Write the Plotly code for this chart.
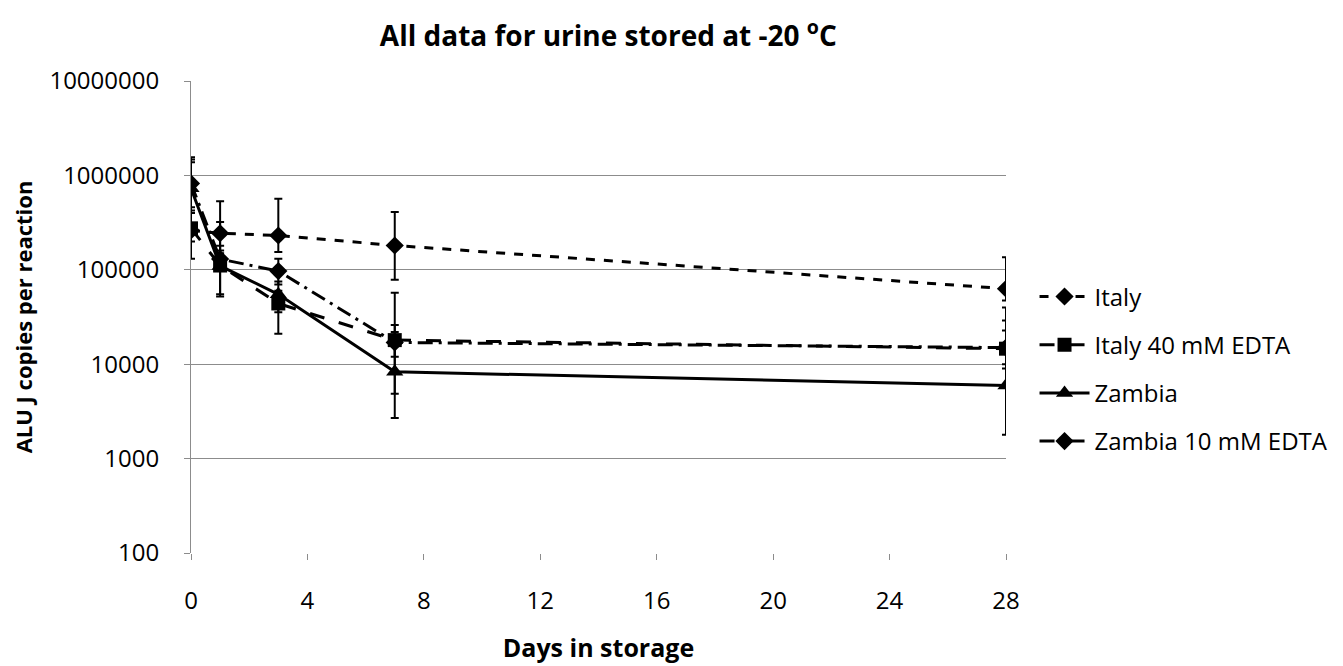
import plotly.graph_objects as go

days = [0, 1, 3, 7, 28]

series_names = ["Italy", "Italy 40 mM EDTA", "Zambia", "Zambia 10 mM EDTA"]

italy = [261000, 244000, 231000, 181000, 63000]
italy_edta = [275000, 111000, 44000, 18000, 14600]
zambia = [730000, 110000, 55000, 8300, 5960]
zambia_edta = [822000, 130000, 97000, 17000, 15000]

# error bar ends (upper / lower values)
italy_hi = [400000, 531000, 566000, 410000, 136000]
italy_lo = [200000, 150000, 154000, 78500, 47400]
italy_edta_hi = [1380000, 320000, 60000, 57000, 39800]
italy_edta_lo = [131000, 55000, 21000, 4860, 9000]
zambia_hi = [1470000, 180000, 75000, 26000, 29100]
zambia_lo = [426000, 52000, 35600, 2700, 1790]
zambia_edta_hi = [1560000, 160000, 131000, 22000, 22800]
zambia_edta_lo = [461000, 100000, 70000, 12000, 10000]

y_ticks = [100, 1000, 10000, 100000, 1000000, 10000000]
y_tick_text = ["100", "1000", "10000", "100000", "1000000", "10000000"]
x_ticks = [0, 4, 8, 12, 16, 20, 24, 28]

FONT = "Open Sans"
GRID = "#8c8c8c"

styles = [
    dict(dash="dash", symbol="diamond", size=14),
    dict(dash="longdash", symbol="square", size=14),
    dict(dash="solid", symbol="triangle-up", size=15),
    dict(dash="longdashdot", symbol="diamond", size=14),
]
values = [italy, italy_edta, zambia, zambia_edta]
highs = [italy_hi, italy_edta_hi, zambia_hi, zambia_edta_hi]
lows = [italy_lo, italy_edta_lo, zambia_lo, zambia_edta_lo]

fig = go.Figure()
for name, vals, hi, lo, st in zip(series_names, values, highs, lows, styles):
    plus = [h - v for h, v in zip(hi, vals)]
    minus = [v - l for l, v in zip(lo, vals)]
    fig.add_trace(go.Scatter(
        x=days, y=vals, name=name, legendgroup=name,
        mode="lines+markers",
        line=dict(color="black", width=3, dash=st["dash"]),
        marker=dict(symbol=st["symbol"], size=st["size"], color="black"),
        error_y=dict(type="data", symmetric=False, array=plus, arrayminus=minus,
                     color="black", thickness=2, width=4),
    ))

# plot area: 183..998 x 73..545 in figure coords (page adds 8px body margin)
fig.update_layout(
    width=1343, height=666,
    margin=dict(l=183, r=345, t=73, b=121),
    paper_bgcolor="white", plot_bgcolor="white",
    font=dict(family=FONT, size=22, color="black"),
    title=dict(text="<b>All data for urine stored at -20 <sup>o</sup>C</b>",
               x=0.447, xanchor="center", y=0.958, yanchor="middle",
               font=dict(size=28)),
    legend=dict(x=1.035, y=0.39, xanchor="left", yanchor="middle",
                font=dict(size=24), tracegroupgap=14, itemwidth=50,
                bgcolor="rgba(0,0,0,0)"),
    showlegend=True,
)
fig.update_xaxes(
    range=[0, 28], tickvals=x_ticks, showgrid=False, zeroline=False,
    showline=False, ticks="outside", ticklen=6, tickcolor=GRID,
    tickfont=dict(size=24), ticklabelstandoff=20,
    title=dict(text="<b>Days in storage</b>", font=dict(size=25), standoff=24),
)
fig.update_yaxes(
    type="log", range=[2, 7], tickvals=y_ticks, ticktext=y_tick_text,
    showgrid=True, gridcolor=GRID, gridwidth=1, zeroline=False,
    showline=True, linecolor=GRID, linewidth=1, ticks="outside",
    ticklen=6, tickcolor=GRID, tickfont=dict(size=24), ticklabelstandoff=20,
    title=dict(text="<b>ALU J copies per reaction</b>", font=dict(size=22), standoff=14),
)

fig.write_html("out.html")
